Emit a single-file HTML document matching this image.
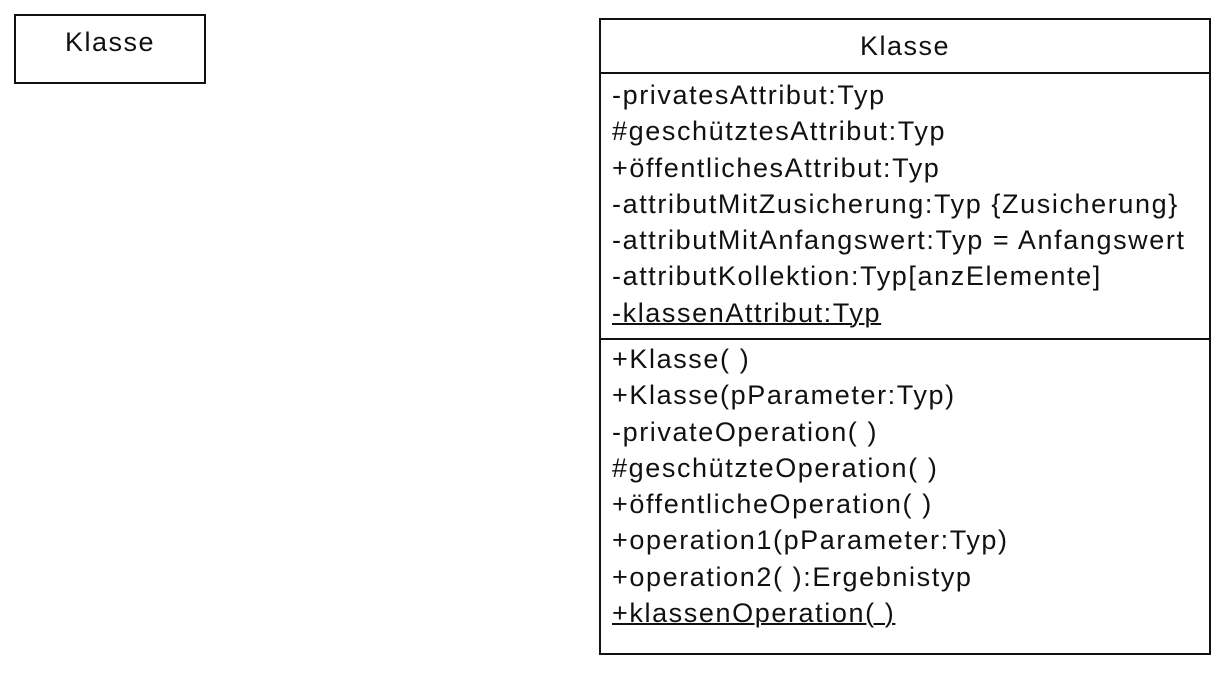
<!DOCTYPE html>
<html><head><meta charset="utf-8"><style>
body{margin:0;width:1226px;height:676px;background:#fff;position:relative;font-family:"Liberation Sans",Arial,sans-serif;color:#111;overflow:hidden}
.b{position:absolute;box-sizing:border-box;border:2px solid #111}
.t{position:absolute;left:612px;font-size:27px;letter-spacing:1.6px;line-height:36.3px;white-space:nowrap}
.h{position:absolute;left:599px;width:611px;height:2px;background:#111}
u{text-decoration:underline;text-decoration-thickness:2px}
</style></head><body>
<div class="b" style="left:14px;top:14px;width:192px;height:70px"></div>
<div style="position:absolute;left:14px;top:27px;width:192px;text-align:center;font-size:27px;letter-spacing:1.5px">Klasse</div>
<div class="b" style="left:599px;top:18px;width:612px;height:637px"></div>
<div style="position:absolute;left:599px;top:31px;width:612px;text-align:center;font-size:27px;letter-spacing:1.5px">Klasse</div>
<div class="h" style="top:72px"></div>
<div class="h" style="top:338px"></div>
<div class="t" style="top:77px">-privatesAttribut:Typ<br>#geschütztesAttribut:Typ<br>+öffentlichesAttribut:Typ<br>-attributMitZusicherung:Typ {Zusicherung}<br>-attributMitAnfangswert:Typ = Anfangswert<br>-attributKollektion:Typ[anzElemente]<br><u>-klassenAttribut:Typ</u></div>
<div class="t" style="top:341px">+Klasse( )<br>+Klasse(pParameter:Typ)<br>-privateOperation( )<br>#geschützteOperation( )<br>+öffentlicheOperation( )<br>+operation1(pParameter:Typ)<br>+operation2( ):Ergebnistyp<br><u>+klassenOperation( )</u></div>
</body></html>
